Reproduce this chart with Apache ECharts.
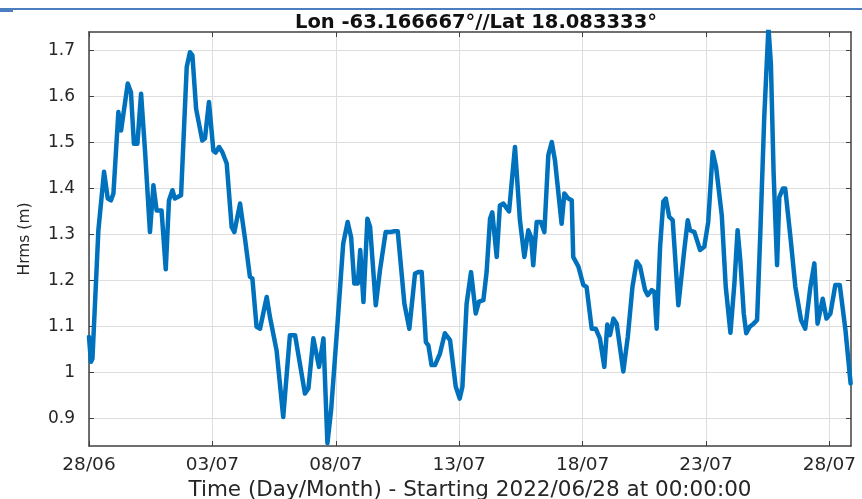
<!DOCTYPE html>
<html><head><meta charset="utf-8">
<script src="https://cdn.jsdelivr.net/npm/echarts@6/dist/echarts.min.js"></script>
<style>html,body{margin:0;padding:0;background:#fff}#c{width:862px;height:499px}</style>
</head><body><div id="c"></div>
<script>
// time in days since 2022/06/28 00:00
const days = [0.00,0.08,0.14,0.38,0.61,0.76,0.89,0.99,1.19,1.30,1.36,1.57,1.70,1.82,1.96,2.11,2.27,2.47,2.61,2.74,2.94,3.11,3.24,3.38,3.48,3.73,3.96,4.09,4.19,4.34,4.59,4.70,4.86,5.04,5.13,
5.27,5.40,5.58,5.78,5.89,6.12,6.32,6.52,6.62,6.79,6.93,7.20,7.33,7.60,7.87,8.14,8.35,8.75,8.89,9.09,9.32,9.40,9.50,9.66,9.81,10.08,10.30,10.48,
10.62,10.75,10.89,10.99,11.12,11.28,11.39,11.62,11.79,12.02,12.20,12.37,12.51,12.78,12.98,13.21,13.34,13.48,13.65,13.75,13.88,14.02,14.22,14.42,14.63,14.86,15.02,15.13,15.30,15.48,15.67,15.80,15.98,
16.11,16.25,16.34,16.52,16.65,16.79,17.02,17.26,17.46,17.64,17.80,17.91,18.00,18.14,18.31,18.45,18.61,18.75,18.88,19.15,19.26,19.42,19.56,19.62,19.83,20.03,20.16,20.37,20.53,20.70,20.88,21.00,
21.11,21.25,21.38,21.65,21.83,22.02,22.19,22.33,22.53,22.64,22.80,22.91,23.00,23.14,23.27,23.37,23.51,23.65,23.88,24.12,24.26,24.35,24.53,24.76,24.93,25.09,25.27,25.41,25.64,25.80,25.99,
26.15,26.28,26.39,26.53,26.63,26.77,26.93,27.07,27.20,27.36,27.53,27.63,27.74,27.88,27.97,28.12,28.21,28.42,28.62,28.85,29.02,29.23,29.39,29.52,29.73,29.88,30.04,30.24,30.42,30.65,30.86];
const hrms = [1.077,1.023,1.030,1.309,1.436,1.378,1.374,1.389,1.566,1.526,1.526,1.628,1.609,1.497,1.497,1.606,1.482,1.305,1.407,1.352,1.352,1.224,1.374,1.396,1.378,1.385,1.664,1.696,1.689,1.573,1.504,1.509,1.588,1.482,1.478,
1.490,1.479,1.454,1.316,1.305,1.367,1.291,1.208,1.204,1.099,1.095,1.164,1.121,1.048,0.903,1.081,1.081,0.954,0.965,1.074,1.012,1.012,1.074,0.846,0.918,1.114,1.280,1.327,
1.294,1.193,1.193,1.266,1.153,1.334,1.316,1.146,1.222,1.305,1.305,1.307,1.307,1.149,1.095,1.215,1.218,1.218,1.066,1.059,1.016,1.016,1.041,1.085,1.070,0.969,0.943,0.969,1.149,1.218,1.128,1.154,1.157,
1.218,1.334,1.348,1.251,1.363,1.367,1.350,1.490,1.331,1.251,1.309,1.294,1.233,1.327,1.327,1.305,1.472,1.501,1.461,1.323,1.389,1.378,1.374,1.251,1.230,1.190,1.186,1.095,1.095,1.074,1.012,1.104,
1.081,1.117,1.106,1.002,1.077,1.186,1.241,1.230,1.179,1.168,1.179,1.175,1.095,1.273,1.371,1.378,1.338,1.331,1.146,1.266,1.331,1.309,1.305,1.266,1.273,1.327,1.479,1.446,1.341,1.186,1.086,
1.193,1.309,1.244,1.128,1.085,1.099,1.106,1.114,1.302,1.555,1.750,1.670,1.432,1.233,1.381,1.400,1.400,1.295,1.186,1.114,1.095,1.186,1.237,1.106,1.160,1.117,1.128,1.190,1.190,1.092,0.976];
const xTickDays = [0,5,10,15,20,25,30];
const xTickLabels = ['28/06','03/07','08/07','13/07','18/07','23/07','28/07'];
const yTickValues = [0.9,1.0,1.1,1.2,1.3,1.4,1.5,1.6,1.7];
const yTickLabels = ['0.9','1','1.1','1.2','1.3','1.4','1.5','1.6','1.7'];
const titleText = 'Lon -63.166667°//Lat 18.083333°';
const xName = 'Time (Day/Month) - Starting 2022/06/28 at 00:00:00';
const yName = 'Hrms (m)';

const X_MIN = 0, X_MAX = 30.875, Y_MIN = 0.84, Y_MAX = 1.74;
const frame = '#404040', txt = '#262626', grid = '#dedede';
const font = 'DejaVu Sans';

function xLabel(v){ const i = xTickDays.findIndex(d => Math.abs(d - v) < 1e-6); return i < 0 ? '' : xTickLabels[i]; }
function yLabel(v){ const i = yTickValues.findIndex(d => Math.abs(d - v) < 1e-6); return i < 0 ? '' : yTickLabels[i]; }

const chart = echarts.init(document.getElementById('c'), null, {renderer:'canvas'});
chart.setOption({
  animation:false,
  backgroundColor:'#fff',
  title:{text:titleText, left:471, top:9, textAlign:'center',
    textStyle:{fontFamily:font, fontWeight:'bold', fontSize:19.5, color:'#111', lineHeight:18}},
  grid:{left:89, right:11, top:32, bottom:53, containLabel:false, outerBoundsMode:'none'},
  graphic:[
    {type:'rect', shape:{x:0,y:8,width:862,height:2}, style:{fill:'#4a7ebf'}, silent:true},
    {type:'rect', shape:{x:0,y:8,width:13,height:4}, style:{fill:'#4a7ebf'}, silent:true}
  ],
  xAxis:[{
    type:'value', min:X_MIN, max:X_MAX, position:'bottom',
    name:xName, nameLocation:'middle', nameGap:31,
    nameTextStyle:{fontFamily:font, fontSize:21.5, color:txt},
    axisLine:{show:true, onZero:false, lineStyle:{color:frame, width:1.5}},
    axisTick:{show:true, inside:true, length:5, customValues:xTickDays, lineStyle:{color:frame}},
    axisLabel:{customValues:xTickDays, formatter:xLabel, margin:10, fontFamily:font, fontSize:18.5, color:txt},
    splitLine:{show:true, lineStyle:{color:grid, width:1}}
  },{
    type:'value', min:X_MIN, max:X_MAX, position:'top',
    axisLine:{show:true, onZero:false, lineStyle:{color:frame, width:1.5}},
    axisTick:{show:true, inside:true, length:5, customValues:xTickDays, lineStyle:{color:frame}},
    axisLabel:{show:false}, splitLine:{show:false}
  }],
  yAxis:[{
    type:'value', min:Y_MIN, max:Y_MAX, position:'left',
    name:yName, nameLocation:'middle', nameGap:56, nameRotate:90,
    nameTextStyle:{fontFamily:font, fontSize:15.5, color:txt},
    axisLine:{show:true, onZero:false, lineStyle:{color:frame, width:1.5}},
    axisTick:{show:true, inside:true, length:5, customValues:yTickValues, lineStyle:{color:frame}},
    axisLabel:{customValues:yTickValues, formatter:yLabel, margin:14, fontFamily:font, fontSize:17, color:txt},
    splitLine:{show:true, lineStyle:{color:grid, width:1}}
  },{
    type:'value', min:Y_MIN, max:Y_MAX, position:'right',
    axisLine:{show:true, onZero:false, lineStyle:{color:frame, width:1.5}},
    axisTick:{show:true, inside:true, length:5, customValues:yTickValues, lineStyle:{color:frame}},
    axisLabel:{show:false}, splitLine:{show:false}
  }],
  series:[{
    type:'line', xAxisIndex:0, yAxisIndex:0,
    data: days.map((d,i) => [d, hrms[i]]),
    showSymbol:false, clip:true,
    lineStyle:{color:'#0072BD', width:4.5, join:'round', cap:'round'},
    z:3
  }]
});
</script>
</body></html>
